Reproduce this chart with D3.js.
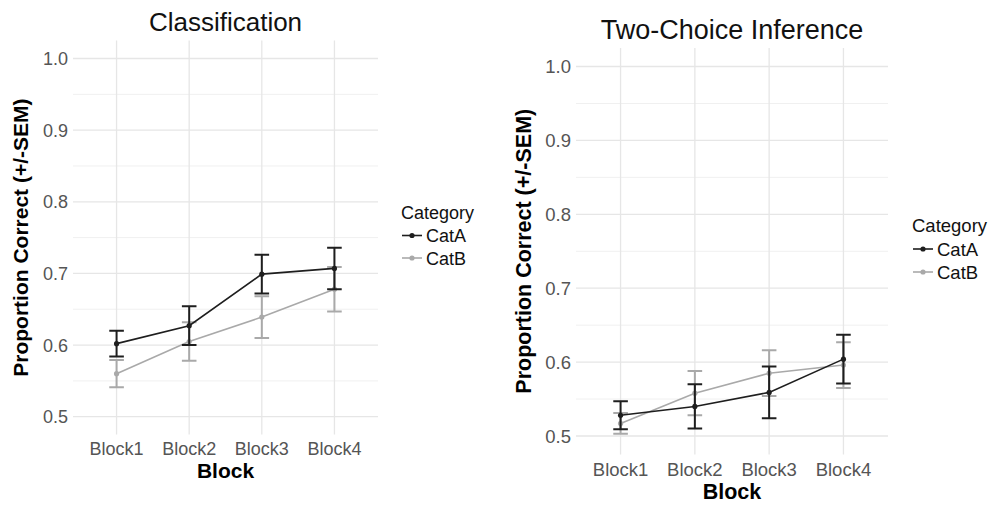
<!DOCTYPE html>
<html>
<head>
<meta charset="utf-8">
<script src="https://cdn.jsdelivr.net/npm/d3@7"></script>
<style>
  body { margin: 0; background: #fff; }
  svg { font-family: "Liberation Sans", Arial, Helvetica, sans-serif; }
</style>
</head>
<body>
<svg id="chart" width="990" height="505"></svg>
<script>
// data
var blocks = ["Block1", "Block2", "Block3", "Block4"];
var categories = ["CatA", "CatB"];
var yTicks = [0.5, 0.6, 0.7, 0.8, 0.9, 1.0];
var yMinor = [0.55, 0.65, 0.75, 0.85, 0.95];

var classCatAMean = [0.602, 0.627, 0.699, 0.707];
var classCatASem  = [0.018, 0.027, 0.027, 0.029];
var classCatBMean = [0.560, 0.605, 0.639, 0.678];
var classCatBSem  = [0.019, 0.027, 0.029, 0.031];

var infCatAMean = [0.528, 0.540, 0.559, 0.604];
var infCatASem  = [0.019, 0.030, 0.035, 0.033];
var infCatBMean = [0.517, 0.558, 0.585, 0.596];
var infCatBSem  = [0.014, 0.030, 0.031, 0.031];

var colors = {CatA: "#1e1e1e", CatB: "#a9a9a9"};

var svg = d3.select("#chart");

// one panel per task; layout only, values come from the arrays above
function drawPanel(opt){
	var g = svg.append("g");
	var x = d3.scalePoint().domain(blocks).range([opt.left, opt.right]).padding(0.6);
	var y = d3.scaleLinear().domain([0.5, 1.0]).range([opt.y05, opt.y10]);
	var top = y(1.025), bottom = y(0.475);

	// grid
	g.selectAll(".minor").data(yMinor).enter().append("line")
		.attr("x1", opt.left).attr("x2", opt.right)
		.attr("y1", function(d){ return y(d); }).attr("y2", function(d){ return y(d); })
		.attr("stroke", "#f0f0f0").attr("stroke-width", 1);
	g.selectAll(".major").data(yTicks).enter().append("line")
		.attr("x1", opt.left).attr("x2", opt.right)
		.attr("y1", function(d){ return y(d); }).attr("y2", function(d){ return y(d); })
		.attr("stroke", "#e6e6e6").attr("stroke-width", 1.3);
	g.selectAll(".vgrid").data(blocks).enter().append("line")
		.attr("x1", function(d){ return x(d); }).attr("x2", function(d){ return x(d); })
		.attr("y1", top).attr("y2", bottom)
		.attr("stroke", "#e6e6e6").attr("stroke-width", 1.3);

	// y tick labels
	g.selectAll(".ytick").data(yTicks).enter().append("text")
		.attr("x", opt.left - 5).attr("y", function(d){ return y(d); })
		.attr("dy", "0.36em").attr("text-anchor", "end")
		.attr("font-size", opt.tick).attr("fill", "#555")
		.text(function(d){ return d3.format(".1f")(d); });

	// x tick labels
	g.selectAll(".xtick").data(blocks).enter().append("text")
		.attr("x", function(d){ return x(d); }).attr("y", opt.xTickY)
		.attr("text-anchor", "middle")
		.attr("font-size", opt.tick).attr("fill", "#555")
		.text(function(d){ return d; });

	// titles
	g.append("text").attr("x", (opt.left + opt.right) / 2).attr("y", opt.titleY)
		.attr("text-anchor", "middle").attr("font-size", opt.titleSize).attr("fill", "#111")
		.text(opt.title);
	g.append("text").attr("x", (opt.left + opt.right) / 2).attr("y", opt.xTitleY)
		.attr("text-anchor", "middle").attr("font-size", opt.axisTitle).attr("font-weight", "bold")
		.text("Block");
	g.append("text")
		.attr("transform", "translate(" + opt.yTitleX + "," + ((top + bottom) / 2) + ") rotate(-90)")
		.attr("text-anchor", "middle").attr("font-size", opt.axisTitle).attr("font-weight", "bold")
		.text("Proportion Correct (+/-SEM)");

	// series: gray first so black sits on top
	var series = [
		{name: "CatB", mean: opt.meanB, sem: opt.semB},
		{name: "CatA", mean: opt.meanA, sem: opt.semA}
	];
	var line = d3.line().x(function(d){ return x(d.block); }).y(function(d){ return y(d.mean); });
	var cap = 7.3;
	series.forEach(function(s){
		var pts = blocks.map(function(b, i){ return {block: b, mean: s.mean[i], sem: s.sem[i]}; });
		var col = colors[s.name];
		var sg = g.append("g");
		sg.selectAll(".eb").data(pts).enter().append("path")
			.attr("d", function(d){
				var cx = x(d.block), hi = y(d.mean + d.sem), lo = y(d.mean - d.sem);
				return "M" + (cx - cap) + "," + hi + "H" + (cx + cap) +
					"M" + cx + "," + hi + "V" + lo +
					"M" + (cx - cap) + "," + lo + "H" + (cx + cap);
			})
			.attr("fill", "none").attr("stroke", col).attr("stroke-width", 2);
		sg.append("path").datum(pts).attr("d", line)
			.attr("fill", "none").attr("stroke", col).attr("stroke-width", 1.6);
		sg.selectAll(".pt").data(pts).enter().append("circle")
			.attr("cx", function(d){ return x(d.block); })
			.attr("cy", function(d){ return y(d.mean); })
			.attr("r", 2.6).attr("fill", col);
	});

	// legend
	var lg = g.append("g");
	lg.append("text").attr("x", opt.legX).attr("y", opt.legY)
		.attr("font-size", opt.tick).attr("fill", "#111").text("Category");
	categories.forEach(function(c, i){
		var yy = opt.legY + opt.legGap * (i + 1) - 6;
		lg.append("line").attr("x1", opt.legX + 1).attr("x2", opt.legX + 21)
			.attr("y1", yy).attr("y2", yy).attr("stroke", colors[c]).attr("stroke-width", 1.6);
		lg.append("circle").attr("cx", opt.legX + 11).attr("cy", yy).attr("r", 2.6).attr("fill", colors[c]);
		lg.append("text").attr("x", opt.legX + 25).attr("y", yy + 6.5)
			.attr("font-size", opt.tick).attr("fill", "#111").text(c);
	});
}

drawPanel({
	title: "Classification", left: 73, right: 378, y05: 416.7, y10: 58.5,
	titleY: 31, titleSize: 26, tick: 18, axisTitle: 21,
	xTickY: 455, xTitleY: 478, yTitleX: 28,
	legX: 401, legY: 219, legGap: 22.5,
	meanA: classCatAMean, semA: classCatASem, meanB: classCatBMean, semB: classCatBSem
});

drawPanel({
	title: "Two-Choice Inference", left: 576, right: 888, y05: 436, y10: 66.5,
	titleY: 39, titleSize: 27, tick: 18.5, axisTitle: 21.5,
	xTickY: 476, xTitleY: 499, yTitleX: 531,
	legX: 912, legY: 232, legGap: 23,
	meanA: infCatAMean, semA: infCatASem, meanB: infCatBMean, semB: infCatBSem
});
</script>
</body>
</html>
